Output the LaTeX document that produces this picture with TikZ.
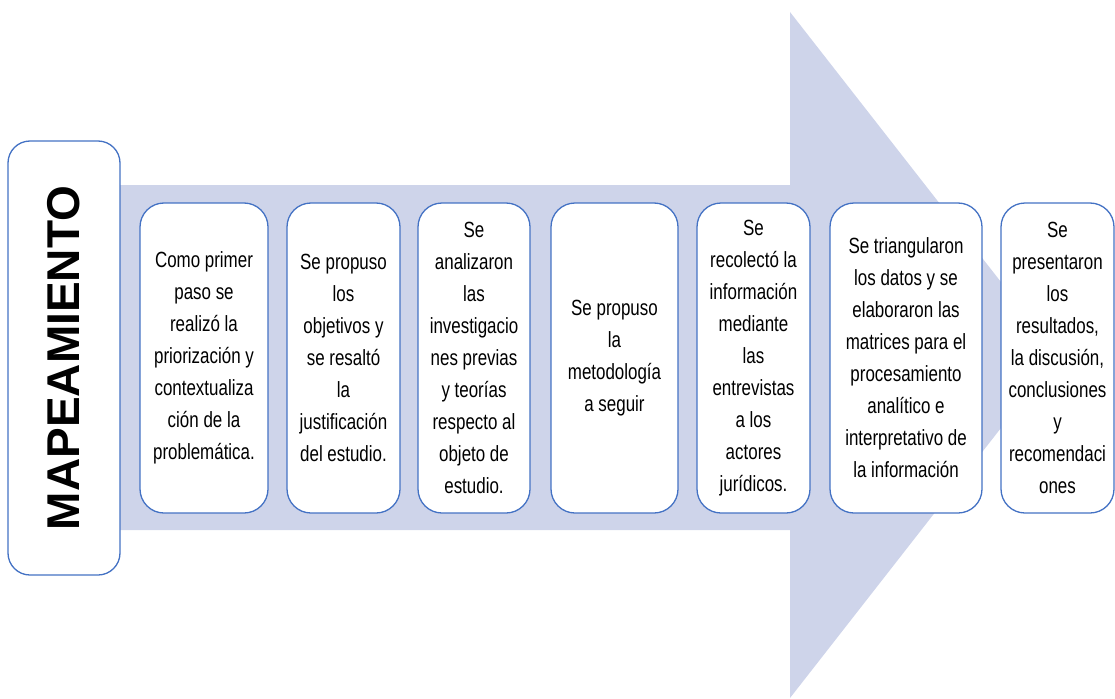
\documentclass[tikz,border=0pt]{standalone}
\usepackage{fontspec}
\setmainfont{Liberation Sans}
\newfontfamily\narrowfont[FakeStretch=0.77]{Liberation Sans}
\definecolor{arrowfill}{HTML}{CED4EA}
\definecolor{boxline}{HTML}{4472C4}
\begin{document}
\begin{tikzpicture}[x=1pt,y=-1pt,
  stepbox/.style={draw=boxline, line width=1.3pt, fill=white, rounded corners=24pt,
    inner sep=0pt, align=center, font=\narrowfont\fontsize{22}{32}\selectfont, text=black},
  titlebox/.style={draw=boxline, line width=1.3pt, fill=white, rounded corners=22pt,
    inner sep=0pt, minimum width=112pt, minimum height=434pt}]
\useasboundingbox (0,0) rectangle (1115,698);
% big arrow
\fill[arrowfill] (120,185) -- (790,185) -- (790,12) -- (1058,355) -- (790,698) -- (790,530) -- (120,530) -- cycle;
% title box
\node[titlebox] (title) at (64,358) {};
\node[rotate=90, font=\bfseries\fontsize{46}{50}\selectfont] (titletext) at (title.center) {MAPEAMIENTO};
% steps
\node[stepbox, minimum width=128pt, minimum height=310pt] (s1) at (204,358)
  {Como primer\\paso se\\realizó la\\priorización y\\contextualiza\\ción de la\\problemática.};
\node[stepbox, minimum width=113pt, minimum height=310pt] (s2) at (343.5,358)
  {Se propuso\\los\\objetivos y\\se resaltó\\la\\justificación\\del estudio.};
\node[stepbox, minimum width=112pt, minimum height=310pt] (s3) at (474,358)
  {Se\\analizaron\\las\\investigacio\\nes previas\\y teorías\\respecto al\\objeto de\\estudio.};
\node[stepbox, minimum width=127pt, minimum height=310pt] (s4) at (614.5,358)
  {Se propuso\\la\\metodología\\a seguir};
\node[stepbox, minimum width=113pt, minimum height=310pt] (s5) at (753.5,358)
  {Se\\recolectó la\\información\\mediante\\las\\entrevistas\\a los\\actores\\jurídicos.};
\node[stepbox, minimum width=152pt, minimum height=310pt] (s6) at (906,358)
  {Se triangularon\\los datos y se\\elaboraron las\\matrices para el\\procesamiento\\analítico e\\interpretativo de\\la información};
\node[stepbox, minimum width=113pt, minimum height=310pt] (s7) at (1057.5,358)
  {Se\\presentaron\\los\\resultados,\\la discusión,\\conclusiones\\y\\recomendaci\\ones};
\end{tikzpicture}
\end{document}
